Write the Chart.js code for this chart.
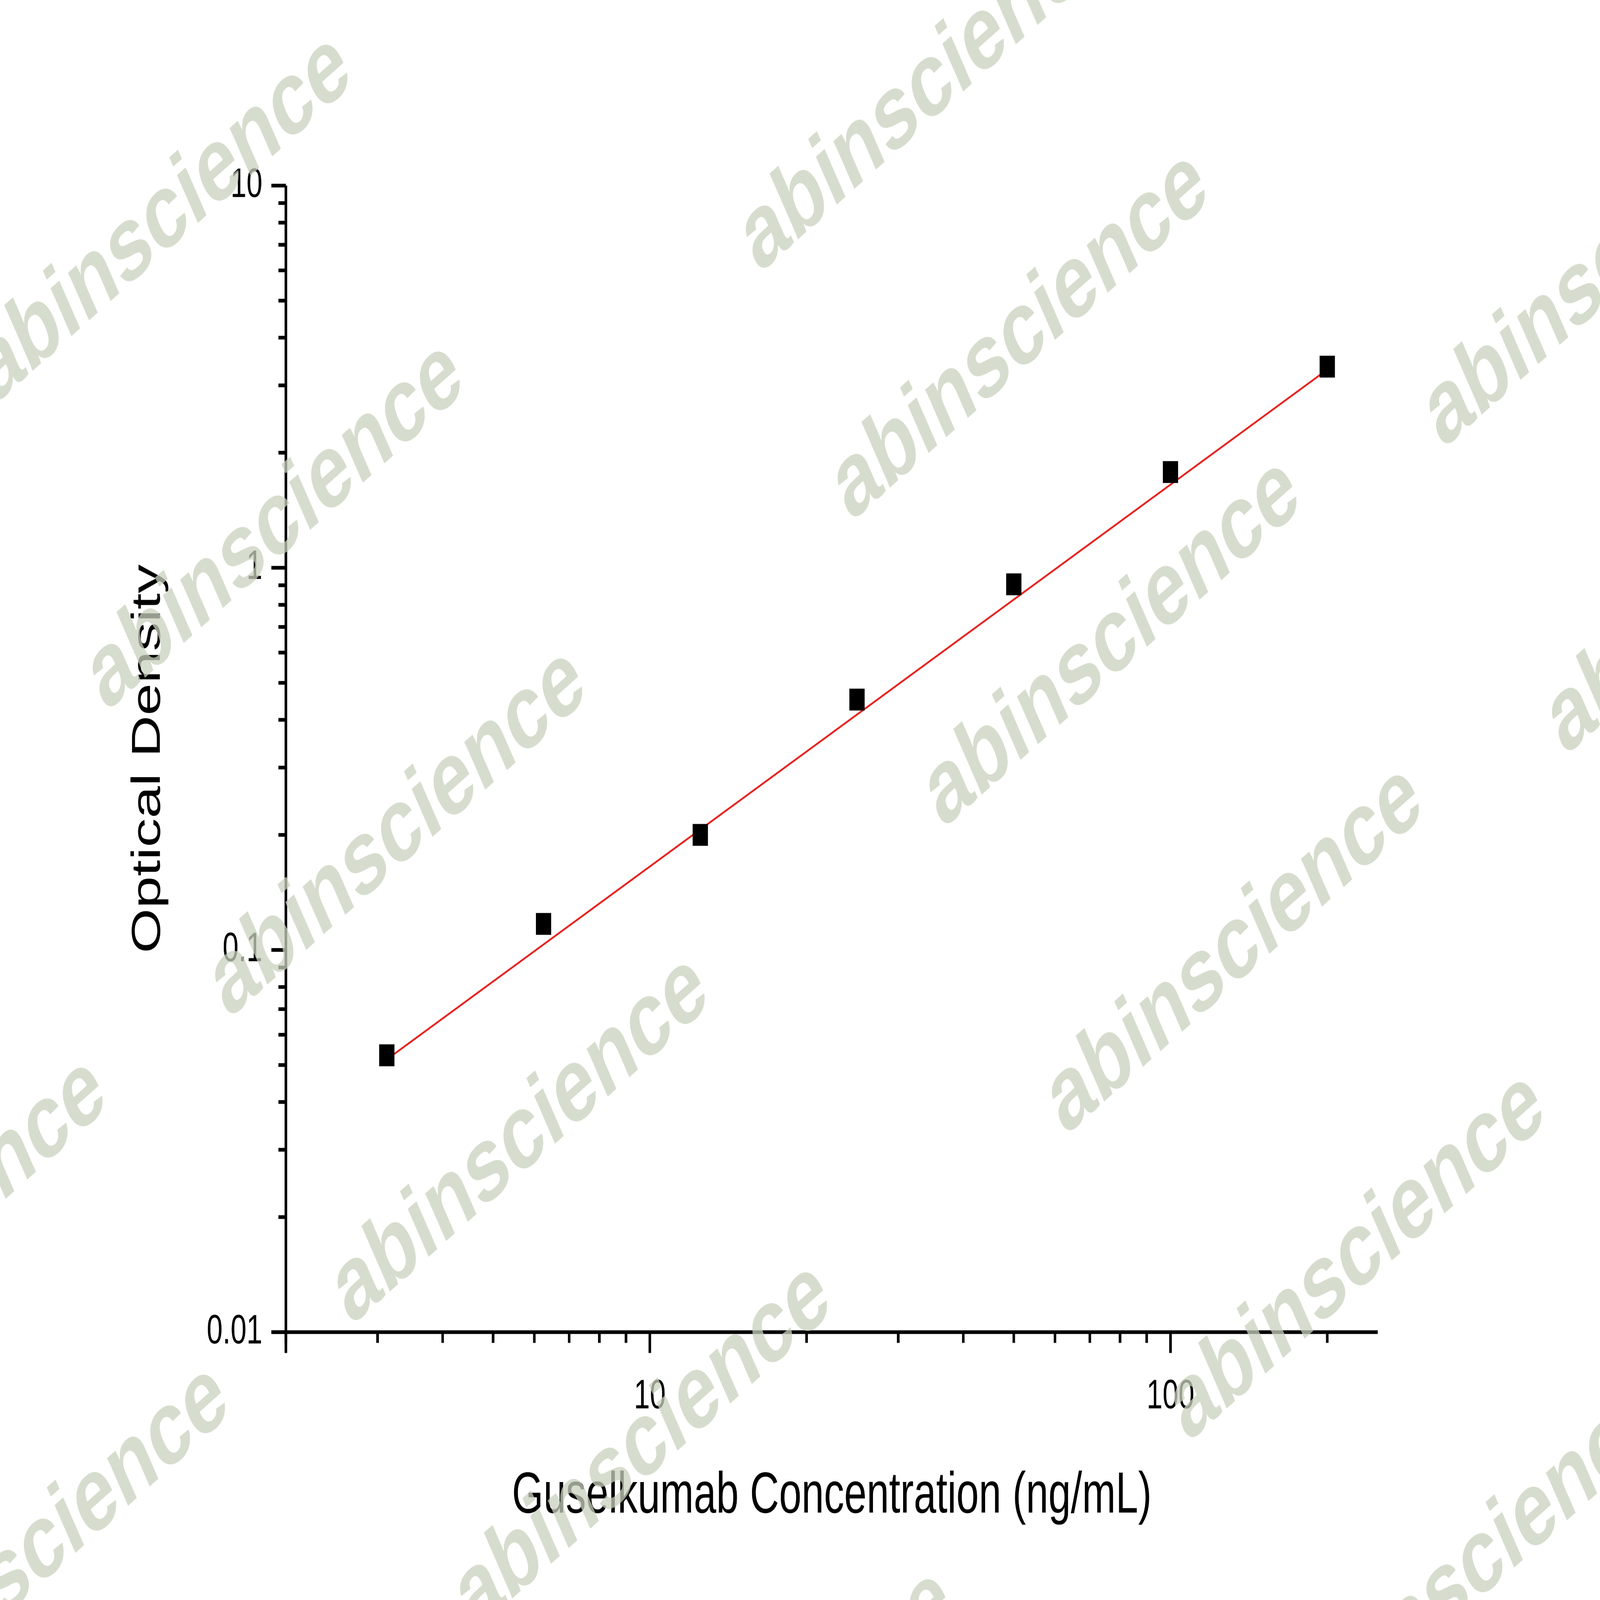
<!DOCTYPE html>
<html><head><meta charset="utf-8">
<script src="https://cdn.jsdelivr.net/npm/chart.js@4"></script>
<style>html,body{margin:0;padding:0;background:#fff;overflow:hidden}</style>
</head><body><canvas id="c" width="6816" height="4759" style="width:100vw;height:100vh;display:block"></canvas>
<script>
const concentrations = [3.125, 6.25, 12.5, 25, 50, 100, 200];
const opticalDensity = [0.053, 0.117, 0.20, 0.452, 0.905, 1.78, 3.36];
const fitX = [3.125, 200];
const fitY = [0.0517, 3.30];
const xMajorTicks = [10, 100];
const yMajorTicks = [0.01, 0.1, 1, 10];
const xTitle = 'Guselkumab Concentration (ng/mL)';
const yTitle = 'Optical Density';
const watermark = 'abinscience';

const S = 4.347;
function allTicks(min, max){const t=[];for(let e=-3;e<=3;e++){for(let m=1;m<10;m++){const v=+(m*Math.pow(10,e)).toPrecision(3);if(v>=min-1e-9&&v<=max+1e-9)t.push({value:v});}}return t;}
const isMajor=v=>Math.abs(Math.log10(v)-Math.round(Math.log10(v)))<1e-6;

const wmPlugin={id:'wm',afterDraw(ch){const c=ch.ctx;c.save();c.fillStyle='rgba(200,210,190,0.75)';c.font='bold '+(73*S)+'px "Liberation Sans", Arial, sans-serif';c.textAlign='center';c.textBaseline='middle';
 const centers=[[160,150],[270,360],[390,570],[510,780],[630,990],[750,1200],[910,60],[1000,230],[1090,440],[1210,650],[1330,860],[1450,1070],[1580,180],[1700,390],[1790,0],[40,1060],[-80,850]];
 centers.forEach(([x,y])=>{c.save();c.translate(x*S,y*S);c.rotate(-32*Math.PI/180);c.fillText(watermark,0,0);c.restore();});
 c.restore();}};
const tickPlugin={id:'tk',afterDatasetsDraw(ch){const c=ch.ctx,xs=ch.scales.x,ys=ch.scales.y;c.save();c.strokeStyle='#000';c.lineWidth=11;c.lineCap='butt';
 xs.ticks.forEach(t=>{const px=xs.getPixelForValue(t.value),L=isMajor(t.value)?62:32;c.beginPath();c.moveTo(px,ys.bottom);c.lineTo(px,ys.bottom+L);c.stroke();});
 ys.ticks.forEach(t=>{const py=ys.getPixelForValue(t.value),L=isMajor(t.value)?62:32;c.beginPath();c.moveTo(xs.left,py);c.lineTo(xs.left-L,py);c.stroke();});
 c.beginPath();c.moveTo(xs.left-62,ys.bottom);c.lineTo(xs.right,ys.bottom);c.moveTo(xs.left,ys.top);c.lineTo(xs.left,ys.bottom+62);c.stroke();
 c.restore();}};

new Chart(document.getElementById('c'),{
 type:'scatter',
 data:{datasets:[
  {data:fitX.map((x,i)=>({x,y:fitY[i]})),showLine:true,borderColor:'#e8201c',borderWidth:6,pointRadius:0,order:2},
  {data:concentrations.map((x,i)=>({x,y:opticalDensity[i]})),pointStyle:'rect',pointRadius:46,pointHoverRadius:46,backgroundColor:'#000',borderColor:'#000',borderWidth:0,order:1}
 ]},
 options:{responsive:false,animation:false,devicePixelRatio:1,
  layout:{padding:{left:526,top:552,right:6816-5869,bottom:200}},
  plugins:{legend:{display:false},tooltip:{enabled:false}},
  scales:{
   x:{type:'logarithmic',min:2,max:250,afterBuildTicks:s=>{s.ticks=allTicks(2,250);},
    grid:{display:false,drawTicks:false},border:{display:false},
    ticks:{autoSkip:false,maxRotation:0,padding:120,color:'#000',font:{size:122,family:'"Liberation Sans", Arial'},callback:(v)=>xMajorTicks.includes(v)?String(v):''},
    title:{display:true,text:xTitle,color:'#000',font:{size:172,family:'"Liberation Sans", Arial'},padding:{top:0}}},
   y:{type:'logarithmic',min:0.01,max:10,afterBuildTicks:s=>{s.ticks=allTicks(0.01,10);},
    grid:{display:false,drawTicks:false},border:{display:false},
    ticks:{autoSkip:false,padding:100,color:'#000',font:{size:122,family:'"Liberation Sans", Arial'},callback:(v)=>yMajorTicks.some(t=>Math.abs(t-v)<1e-9)?String(v):''},
    title:{display:true,text:yTitle,color:'#000',font:{size:172,family:'"Liberation Sans", Arial'},padding:{bottom:44}}}
  }},
 plugins:[tickPlugin,wmPlugin]
});
</script></body></html>
